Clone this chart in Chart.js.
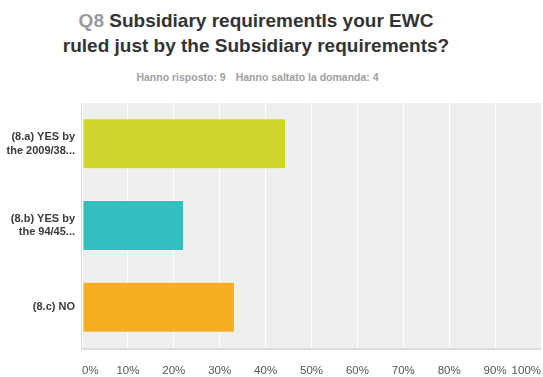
<!DOCTYPE html>
<html>
<head>
<meta charset="utf-8">
<style>
  html, body { margin: 0; padding: 0; background: #fff; }
  #wrap { position: relative; width: 543px; height: 377px; overflow: hidden; }
  #title {
    position: absolute; left: 0; top: 8px; width: 512px;
    text-align: center; font: bold 19px "Liberation Sans", Arial, sans-serif;
    line-height: 25px; color: #333;
  }
  #title .qn { color: #9a9a9a; }
  #sub {
    position: absolute; left: 0; top: 71px; width: 515px; text-align: center;
    font: bold 10.5px "Liberation Sans", Arial, sans-serif; color: #a0a0a0;
  }
  #sub span { margin: 0 5px; }
  canvas { position: absolute; left: 0; top: 0; }
</style>
</head>
<body>
<div id="wrap">
  <div id="title"><span class="qn">Q8</span> Subsidiary requirementIs your EWC<br>ruled just by the Subsidiary requirements?</div>
  <div id="sub"><span>Hanno risposto: 9</span><span>Hanno saltato la domanda: 4</span></div>
  <canvas id="chart" width="543" height="377"></canvas>
</div>
<script src="https://cdn.jsdelivr.net/npm/chart.js@4"></script>
<script>
const categories = [
  ["(8.a) YES by", "the 2009/38..."],
  ["(8.b) YES by", "the 94/45..."],
  ["(8.c) NO"]
];
const percentages = [44.44, 22.22, 33.33];
const barColors = ["#cfd52a", "#33bec0", "#f6af22"];
const tickValues = [0, 10, 20, 30, 40, 50, 60, 70, 80, 90, 100];

// gray panel behind the bars
const panelBg = {
  id: "panelBg",
  beforeDraw(chart) {
    const { ctx, chartArea: a } = chart;
    ctx.save();
    ctx.fillStyle = "#dcdcdc";
    ctx.fillRect(a.left - 1, a.top, a.width + 1, a.height + 2);
    ctx.fillStyle = "#efefef";
    ctx.fillRect(a.left, a.top, a.width, a.height);
    ctx.restore();
  }
};

new Chart(document.getElementById("chart"), {
  type: "bar",
  data: {
    labels: categories,
    datasets: [{
      data: percentages,
      backgroundColor: barColors,
      borderColor: "rgba(255,255,255,0.45)",
      borderWidth: 1,
      borderSkipped: false,
      barPercentage: 0.625,
      categoryPercentage: 1
    }]
  },
  options: {
    indexAxis: "y",
    responsive: false,
    animation: false,
    layout: { padding: { top: 103, right: 2, bottom: 0, left: 0 } },
    plugins: { legend: { display: false }, tooltip: { enabled: false } },
    scales: {
      x: {
        min: 0,
        max: 100,
        afterBuildTicks(scale) { scale.ticks = tickValues.map(v => ({ value: v })); },
        afterFit(scale) {
          scale.height = 29;
          scale.paddingLeft = 0;
          scale.paddingRight = 0;
        },
        grid: { color: "#ffffff", lineWidth: 1, drawTicks: false },
        border: { display: false },
        ticks: {
          align: "inner",
          padding: 16,
          color: "#555",
          font: { family: "Liberation Sans", size: 11.5 },
          callback: v => v + "%"
        }
      },
      y: {
        grid: { display: false, drawTicks: false },
        border: { display: false },
        afterFit(scale) {
          scale.width = 82;
          scale.paddingTop = 0;
          scale.paddingBottom = 0;
        },
        ticks: {
          padding: 7,
          color: "#3a3a3a",
          font: { family: "Liberation Sans", size: 11, weight: "bold", lineHeight: 1.25 }
        }
      }
    }
  },
  plugins: [panelBg]
});
</script>
</body>
</html>
